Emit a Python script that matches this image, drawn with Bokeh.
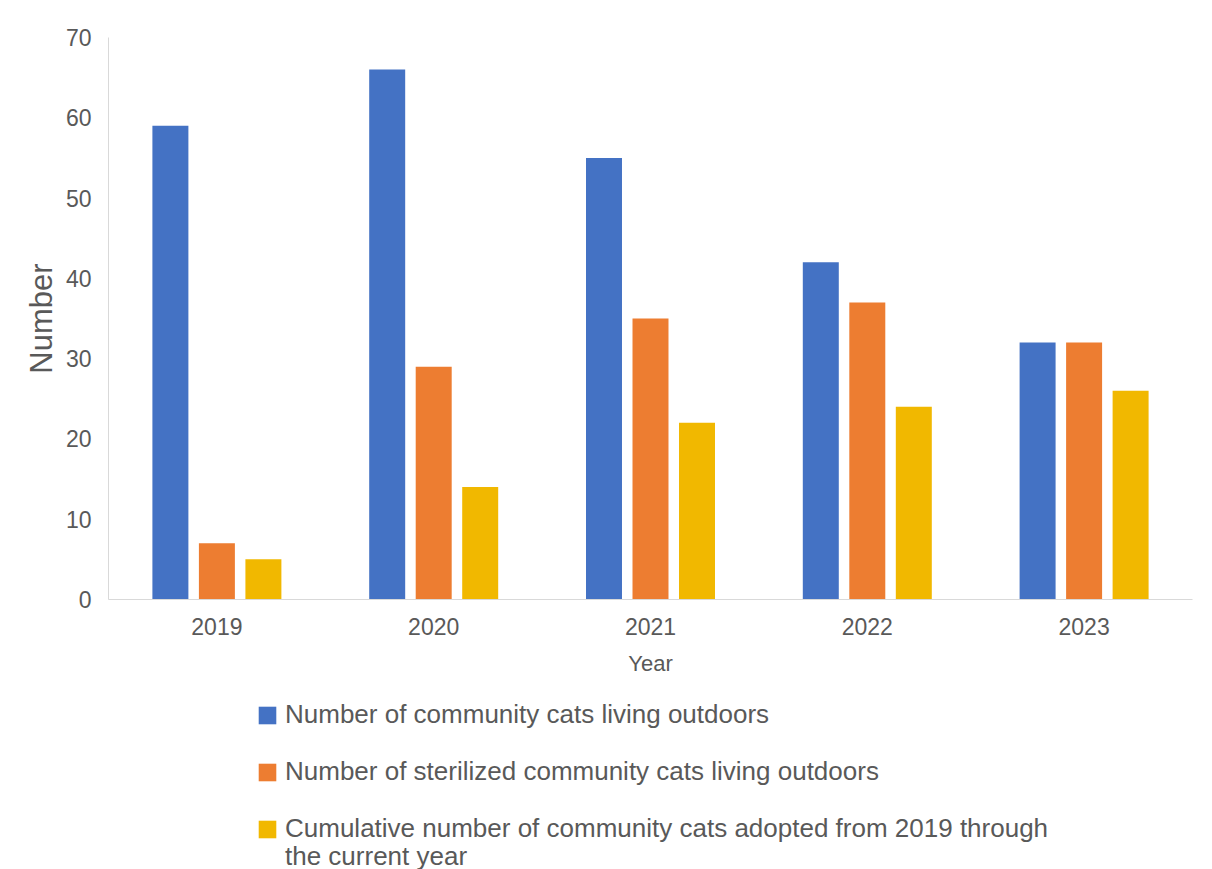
from bokeh.plotting import figure
from bokeh.models import FactorRange, Range1d, Legend, LegendItem, SingleIntervalTicker
from bokeh.layouts import column
from bokeh.transform import dodge
from bokeh.embed import file_html
from bokeh.resources import INLINE

years = ["2019", "2020", "2021", "2022", "2023"]
outdoors = [59, 66, 55, 42, 32]
sterilized = [7, 29, 35, 37, 32]
adopted = [5, 14, 22, 24, 26]

labels = [
    "Number of community cats living outdoors",
    "Number of sterilized community cats living outdoors",
    "Cumulative number of community cats adopted from 2019 through",
]
label_cont = "the current year"
colors = ["#4472C4", "#ED7D31", "#F1B800"]

FONT = "Liberation Sans"
TXT = "#595959"

xr = FactorRange(*years, range_padding=0)

p = figure(
    x_range=xr,
    y_range=Range1d(0, 70),
    width=1212, height=680,
    output_backend="svg", toolbar_location=None,
    min_border_left=108, min_border_right=20, min_border_top=37, min_border_bottom=81,
)
p.outline_line_color = None
p.xgrid.grid_line_color = None
p.ygrid.grid_line_color = None

src = dict(year=years, a=outdoors, b=sterilized, c=adopted)
w = 0.166
off = 0.2145
offsets = [-off, 0, off]
fields = ["a", "b", "c"]
for f, o, c in zip(fields, offsets, colors):
    p.vbar(x=dodge("year", o, range=xr), top=f, width=w, source=src, color=c, line_color=None)

for ax in (p.xaxis[0], p.yaxis[0]):
    ax.axis_line_color = "#d9d9d9"
    ax.major_tick_line_color = None
    ax.minor_tick_line_color = None
    ax.major_label_text_font = FONT
    ax.major_label_text_color = TXT
    ax.major_label_text_font_size = "23px"
    ax.axis_label_text_font = FONT
    ax.axis_label_text_color = TXT
    ax.axis_label_text_font_style = "normal"

p.yaxis[0].ticker = SingleIntervalTicker(interval=10)
p.yaxis[0].major_label_standoff = 11
p.yaxis.axis_label = "Number"
p.yaxis[0].axis_label_text_font_size = "31px"
p.yaxis[0].axis_label_standoff = 4

p.xaxis[0].major_label_standoff = 12
p.xaxis.axis_label = "Year"
p.xaxis[0].axis_label_text_font_size = "22px"
p.xaxis[0].axis_label_standoff = 13

# legend panel below the chart (same series, kept outside its visible y-range)
p2 = figure(
    x_range=xr, y_range=Range1d(1000, 1001),
    width=1212, height=189,
    output_backend="svg", toolbar_location=None,
    x_axis_location=None, y_axis_location=None,
    min_border_left=108, min_border_right=20, min_border_top=0, min_border_bottom=0,
)
p2.outline_line_color = None
p2.xgrid.grid_line_color = None
p2.ygrid.grid_line_color = None

swatches = [
    p2.vbar(x=dodge("year", o, range=xr), top=f, width=0, source=src, color=c, line_color=None)
    for f, o, c in zip(fields, offsets, colors)
]

common = dict(
    orientation="vertical",
    border_line_color=None,
    background_fill_alpha=0,
    padding=0, margin=0,
    spacing=26,
    glyph_width=22, glyph_height=22,
    label_standoff=7,
    label_text_font=FONT,
    label_text_font_size="26px",
    label_text_color=TXT,
    label_height=31,
)

legend = Legend(
    items=[LegendItem(label=labels[i], renderers=[r]) for i, r in enumerate(swatches)],
    location=(148, 25),
    **common,
)
legend_cont = Legend(
    items=[LegendItem(label=label_cont, renderers=[])],
    location=(148, -3),
    **common,
)
p2.add_layout(legend, "center")
p2.add_layout(legend_cont, "center")

open("out.html", "w").write(file_html(column(p, p2, spacing=0), INLINE))
